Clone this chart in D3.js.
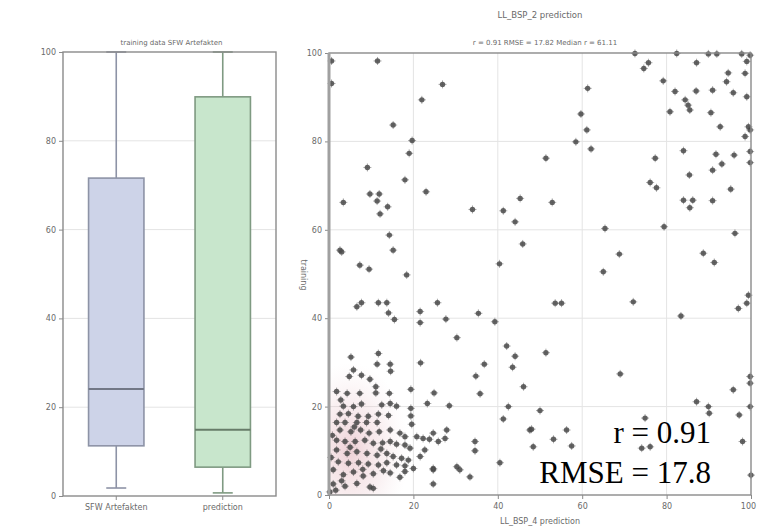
<!DOCTYPE html>
<html><head><meta charset="utf-8">
<script src="https://cdn.jsdelivr.net/npm/d3@7"></script>
<style>body{margin:0;background:#fff}svg{display:block}</style>
</head><body>
<svg id="c" width="757" height="530"></svg>
<script>
// ---- data ----
const boxCategories = ["SFW Artefakten", "prediction"];
const boxMin    = [1.8, 0.7];
const boxQ1     = [11.3, 6.5];
const boxMedian = [24.1, 14.9];
const boxQ3     = [71.6, 89.9];
const boxMax    = [100, 100];
const tickValues = [0, 20, 40, 60, 80, 100];
const tickLabels = ["0", "20", "40", "60", "80", "100"];
const leftTitle = "training data SFW Artefakten";
const rightTitle = "LL_BSP_2 prediction";
const rightSubtitle = "r = 0.91    RMSE = 17.82    Median r = 61.11";
const xLabel = "LL_BSP_4 prediction";
const yLabel = "training";
const statLines = ["r = 0.91", "RMSE = 17.8"];
const scatterPoints = [
 [0.6,98.2],[11.5,98.2],[26.9,92.9],[22.0,89.4],[15.2,83.7],[19.7,80.2],[19.0,77.3],[0.6,93.1],[9.1,74.1],[18,71.3],
 [23,68.6],[9.7,68.1],[11.9,68.1],[11.4,66.5],[3.4,66.2],[13.9,65.2],[12.1,63.6],[34.0,64.6],[41.3,64.3],[45.3,67.1],
 [44.1,61.8],[45.9,56.8],[14.3,58.8],[2.6,55.4],
 [72.5,99.9],[82.4,99.9],[89.9,99.8],[91.9,99.8],[97.8,99.8],[99.8,99.5],[75.7,97.8],[74.6,96.5],[87.1,97.8],[99,98.1],
 [94.6,95.5],[98.6,95.4],[79.2,93.7],[94.2,93.5],[61.3,92],[82,91.3],[87,91.4],[90.9,91.6],[95.8,91],[99,90.1],
 [84.4,89.4],[85.1,88.2],[85.5,87.1],[80.8,86.7],[90.5,86.5],[59.7,86.2],[61.1,82.6],[58.5,79.9],[62.1,78.3],[92.7,83.3],
 [99.4,83.3],[99.8,82.6],[98.6,81.1],[51.4,76.2],[77.3,76.2],[84,77.9],[91.7,77.1],[96,76.9],[99.8,77.7],[99.8,75.2],
 [93.1,74.9],[90.9,73.5],[85.4,72.4],[76.1,70.7],[77.6,69.5],[95.2,69.2],[52.9,66.2],[84,66.7],[86.2,66.7],[85.5,65],
 [90.9,66.6],[65.4,60.3],[79.4,60.7],[96.2,59.2],
 [3,55],[15.2,55.4],[7.3,52],[9.5,51.1],[18.4,49.8],[40.4,52.3],[7.7,43.5],[6.6,42.6],[11.7,43.5],[13.7,43.5],
 [14.1,41.2],[15.5,39.7],[25.7,43.5],[21.6,41.5],[21.6,39],[27.7,39.8],[35.4,41.1],[39.3,39.2],[30.3,35.6],[42.1,33.7],
 [44.1,31.4],[43.5,28.9],[46.1,24.5],[11.7,32],[5.2,31.2],[11.4,29.6],[14.5,29.6],[14.6,28],[21.7,29.9],[36.8,29.6],
 [34.8,26.9],[35.8,22.9],[19.4,23.9],[24.9,23.1],[23.3,20.7],[28.5,20.2],[41.3,17.2],[42.5,20],[47.6,14.7],[34.6,12.1],
 [34.6,10],[27.9,14.7],[27.5,12.8],[25.9,12.1],[24.7,14],[23.8,12.6],[40.5,7.3],[30.3,6.4],
 [5.8,28.3],[4.8,26.8],[7.7,27.1],[9.7,26.2],[11.1,24.5],[4.3,23],[7.3,23],[11.1,23.1],[14.3,23],[1.8,23.4],
 [3.4,20.1],[5.8,20],[7.7,20.6],[12.5,20.4],[14.5,20.7],[16,20.1],[19.4,19.6],[2.6,18.3],[4.6,18.4],[6.9,17.8],
 [9.3,17.8],[11.7,18.3],[14.1,18],[19.4,17.9],[1.8,16.4],[3.8,16.4],[6.6,16.4],[8.9,16.4],[11.4,16.4],[19.6,16],
 [2.6,14.7],[5.2,14.3],[7.5,14.7],[9.5,14],[11.9,14.3],[14.5,14.7],[16.8,14],[18,13.2],[20.8,13.2],[22.3,12.8],
 [1.8,12.4],[3.8,12.1],[6.2,12.1],[8.5,12.4],[10.5,11.7],[12.7,11.8],[14.5,12.1],[16,11.5],[18,11.3],[19.2,10.6],
 [22.7,10.2],[21.6,8.7],[1.8,10.2],[4.3,9.4],[6.6,9.8],[9,9.4],[11.4,9],[13.7,9.4],[15.2,8.7],[17.2,8.3],
 [18.8,7.9],[2.2,7.5],[4.6,7.2],[7,7.3],[9.3,7],[11.7,6.8],[13.7,7.3],[16,6.8],[18,6.6],[20,6],
 [24.7,6],[1,5.7],[3.4,4.6],[5.8,5.2],[8.1,4.3],[10.5,4.8],[12.9,5.5],[14.5,5],[16.8,4],[18,5.3],
 [1,2.5],[3.8,2],[6.6,2.6],[9.7,1.8],[10.5,1.5],[0.2,0.7],[1.6,1.1],[24.7,5.7],[24.7,2.5],[31,5.7],
 [33.4,4.1],[100,4.5],[3,3.2],[5,10.8],[2.8,21.5],[8,5.8],[6,15.4],[12.3,10.4],[0.8,13.5],[0.5,8.5],
 [68.8,54.5],[65,50.5],[88.7,54.7],[91.3,52.6],[53.6,43.4],[55.1,43.4],[72.1,43.7],[99.4,45.2],[99,43.4],[97,42.2],
 [83.4,40.5],[51.4,32.2],[69,27.4],[99.8,26.8],[99.8,25.3],[95.8,23.8],[50,19.1],[87.1,21.1],[89.9,20],[90.1,18.5],
 [97.2,18.1],[74.9,17.4],[48,14.9],[48.4,10.9],[53.2,12.6],[56.3,14.7],[57.5,11.1],[74.1,10.6],[76.1,10.9],[98,12.1],
 [99.8,20]
];

// ---- drawing ----
const svg = d3.select("#c");
const font = "DejaVu Sans, sans-serif";
const gridCol = "#e4e4e4", frameCol = "#8a8a8a", txtCol = "#6a6a6a";

// LEFT PANEL
const L = {x0: 63, x1: 276, y0: 52, y1: 496};
const yL = d3.scaleLinear().domain([0, 100]).range([L.y1, L.y0]);
const xL = d3.scaleBand().domain(boxCategories).range([L.x0, L.x1]).padding(0);
const gL = svg.append("g");
gL.selectAll("line.grid").data(tickValues.slice(1, -1)).join("line")
  .attr("x1", L.x0).attr("x2", L.x1).attr("y1", d => yL(d)).attr("y2", d => yL(d))
  .attr("stroke", gridCol).attr("stroke-width", 1);
const leftAxis = d3.axisLeft(yL).tickValues(tickValues).tickFormat((d, i) => tickLabels[i]).tickSize(4);
gL.append("g").attr("transform", `translate(${L.x0},0)`).call(leftAxis)
  .call(g => g.select(".domain").remove())
  .call(g => g.selectAll("line").attr("stroke", frameCol))
  .call(g => g.selectAll("text").attr("fill", txtCol).attr("font-size", 8).attr("font-family", font));
const bottomBand = d3.axisBottom(xL).tickSize(4);
gL.append("g").attr("transform", `translate(0,${L.y1})`).call(bottomBand)
  .call(g => g.select(".domain").remove())
  .call(g => g.selectAll("line").attr("stroke", frameCol))
  .call(g => g.selectAll("text").attr("fill", txtCol).attr("font-size", 8).attr("font-family", font).attr("dy", "0.9em"));

const boxFill = ["#cdd3e8", "#c8e6cc"];
const boxStroke = ["#8d93a6", "#7f9a82"];
const bw = xL.bandwidth() * 0.52;
boxCategories.forEach((c, i) => {
  const cx = xL(c) + xL.bandwidth() / 2;
  const g = gL.append("g");
  g.append("line").attr("x1", cx).attr("x2", cx).attr("y1", yL(boxMax[i])).attr("y2", yL(boxQ3[i]))
    .attr("stroke", boxStroke[i]).attr("stroke-width", 1.6);
  g.append("line").attr("x1", cx).attr("x2", cx).attr("y1", yL(boxQ1[i])).attr("y2", yL(boxMin[i]))
    .attr("stroke", boxStroke[i]).attr("stroke-width", 1.6);
  g.append("line").attr("x1", cx - 10).attr("x2", cx + 10).attr("y1", yL(boxMin[i])).attr("y2", yL(boxMin[i]))
    .attr("stroke", boxStroke[i]).attr("stroke-width", 1.6);
  g.append("line").attr("x1", cx - 10).attr("x2", cx + 10).attr("y1", yL(boxMax[i])).attr("y2", yL(boxMax[i]))
    .attr("stroke", boxStroke[i]).attr("stroke-width", 1.6);
  g.append("rect").attr("x", cx - bw / 2).attr("width", bw)
    .attr("y", yL(boxQ3[i])).attr("height", yL(boxQ1[i]) - yL(boxQ3[i]))
    .attr("fill", boxFill[i]).attr("stroke", boxStroke[i]).attr("stroke-width", 1.6);
  g.append("line").attr("x1", cx - bw / 2).attr("x2", cx + bw / 2).attr("y1", yL(boxMedian[i])).attr("y2", yL(boxMedian[i]))
    .attr("stroke", d3.color(boxStroke[i]).darker(0.6)).attr("stroke-width", 2);
});
gL.append("rect").attr("x", L.x0).attr("y", L.y0).attr("width", L.x1 - L.x0).attr("height", L.y1 - L.y0)
  .attr("fill", "none").attr("stroke", frameCol).attr("stroke-width", 1.4);
gL.append("text").attr("x", (L.x0 + L.x1) / 2 + 2).attr("y", 45).attr("text-anchor", "middle")
  .attr("font-size", 7).attr("font-family", font).attr("fill", txtCol).text(leftTitle);

// RIGHT PANEL
const R = {x0: 329, x1: 751, y0: 53, y1: 495};
const xR = d3.scaleLinear().domain([0, 100]).range([R.x0, R.x1]);
const yR = d3.scaleLinear().domain([0, 100]).range([R.y1, R.y0]);
const gR = svg.append("g");
const defs = svg.append("defs");
defs.append("clipPath").attr("id", "plotclip").append("rect")
  .attr("x", R.x0).attr("y", R.y0).attr("width", R.x1 - R.x0).attr("height", R.y1 - R.y0);
gR.selectAll("line.gx").data(tickValues.slice(1, -1)).join("line")
  .attr("x1", d => xR(d)).attr("x2", d => xR(d)).attr("y1", R.y0).attr("y2", R.y1)
  .attr("stroke", gridCol).attr("stroke-width", 1);
gR.selectAll("line.gy").data(tickValues.slice(1, -1)).join("line")
  .attr("y1", d => yR(d)).attr("y2", d => yR(d)).attr("x1", R.x0).attr("x2", R.x1)
  .attr("stroke", gridCol).attr("stroke-width", 1);

// density shading at the dense corner
const grad = defs.append("radialGradient").attr("id", "pink");
grad.append("stop").attr("offset", "0%").attr("stop-color", "#d99aa6").attr("stop-opacity", 0.45);
grad.append("stop").attr("offset", "60%").attr("stop-color", "#e6b8c0").attr("stop-opacity", 0.2);
grad.append("stop").attr("offset", "100%").attr("stop-color", "#f0d5da").attr("stop-opacity", 0);
gR.append("ellipse").attr("clip-path", "url(#plotclip)")
  .attr("cx", xR(5)).attr("cy", yR(10)).attr("rx", xR(14) - xR(0)).attr("ry", yR(0) - yR(20))
  .attr("fill", "url(#pink)");

const pts = gR.append("g");
pts.selectAll("circle").data(scatterPoints).join("circle")
  .attr("cx", d => xR(d[0])).attr("cy", d => yR(d[1])).attr("r", 2.7)
  .attr("fill", "#3f3f3f").attr("fill-opacity", 0.8);
pts.selectAll("path").data(scatterPoints).join("path")
  .attr("d", d => `M${xR(d[0]) - 4},${yR(d[1])}h8M${xR(d[0])},${yR(d[1]) - 4}v8`)
  .attr("stroke", "#555").attr("stroke-opacity", 0.5).attr("stroke-width", 1);

const axL = d3.axisLeft(yR).tickValues(tickValues).tickFormat((d, i) => tickLabels[i]).tickSize(4);
gR.append("g").attr("transform", `translate(${R.x0},0)`).call(axL)
  .call(g => g.select(".domain").remove())
  .call(g => g.selectAll("line").attr("stroke", frameCol))
  .call(g => g.selectAll("text").attr("fill", txtCol).attr("font-size", 8).attr("font-family", font));
const axB = d3.axisBottom(xR).tickValues(tickValues).tickFormat((d, i) => tickLabels[i]).tickSize(4);
gR.append("g").attr("transform", `translate(0,${R.y1})`).call(axB)
  .call(g => g.select(".domain").remove())
  .call(g => g.selectAll("line").attr("stroke", frameCol))
  .call(g => g.selectAll("text").attr("fill", txtCol).attr("font-size", 8).attr("font-family", font).attr("dy", "0.9em")
    .attr("dx", (d, i) => i === tickValues.length - 1 ? -3 : 0));
gR.append("rect").attr("x", R.x0).attr("y", R.y0).attr("width", R.x1 - R.x0).attr("height", R.y1 - R.y0)
  .attr("fill", "none").attr("stroke", frameCol).attr("stroke-width", 1.4);
gR.append("line").attr("x1", R.x0).attr("x2", R.x0).attr("y1", R.y0).attr("y2", R.y1)
  .attr("stroke", "#a0a0a0").attr("stroke-width", 3);

const cxR = (R.x0 + R.x1) / 2;
gR.append("text").attr("x", cxR).attr("y", 18).attr("text-anchor", "middle")
  .attr("font-size", 8.5).attr("font-family", font).attr("fill", txtCol).text(rightTitle);
gR.append("text").attr("x", cxR + 5).attr("y", 45).attr("text-anchor", "middle")
  .attr("font-size", 7).attr("font-family", font).attr("fill", txtCol).text(rightSubtitle);
gR.append("text").attr("x", cxR).attr("y", 524).attr("text-anchor", "middle")
  .attr("font-size", 8).attr("font-family", font).attr("fill", txtCol).text(xLabel);
gR.append("text").attr("transform", `translate(301,275) rotate(90)`).attr("text-anchor", "middle")
  .attr("font-size", 8).attr("font-family", font).attr("fill", txtCol).text(yLabel);

gR.selectAll("text.stat").data(statLines).join("text")
  .attr("x", 711).attr("y", (d, i) => 443 + i * 40).attr("text-anchor", "end")
  .attr("font-size", 31).attr("font-family", "Liberation Serif, Times New Roman, serif")
  .attr("fill", "#000").text(d => d);
</script>
</body></html>
